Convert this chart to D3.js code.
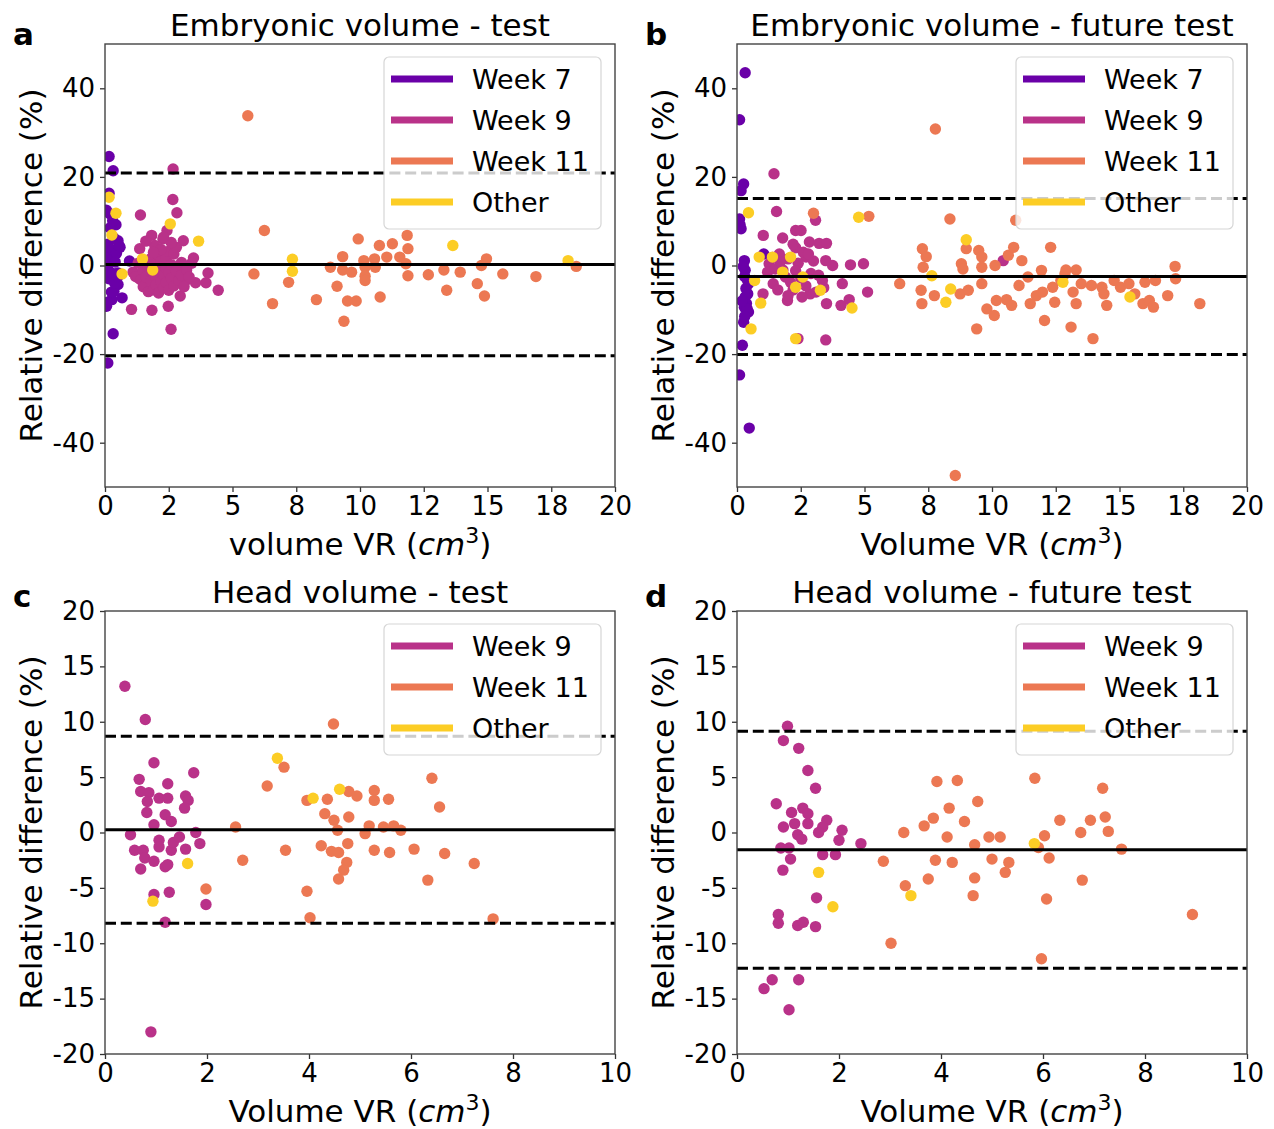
<!DOCTYPE html>
<html>
<head>
<meta charset="utf-8">
<script src="https://cdn.jsdelivr.net/npm/d3@7"></script>
<style>
  body { margin: 0; background: #fff; }
  svg text { font-family: "DejaVu Sans", sans-serif; fill: #000; }
</style>
</head>
<body>
<svg id="chart" width="1274" height="1129"></svg>
<script>
// group colours (plasma-like)
var groupNames = ["Week 7", "Week 9", "Week 11", "Other"];
var groupColors = ["#6a00a8", "#b93289", "#ec7853", "#fccd25"];

// panel a: embryonic volume - test   [volume VR, relative difference %]
var aWeek7 = [[0.16,24.6],[0.32,21.4],[0.16,16.3],[0.19,11.7],[0.43,9.2],[0.51,5.6],[0.59,4.1],
  [0.19,1.7],[0.51,-1.7],[0.51,-4.3],[0.67,-7.3],[0.27,-7.7],[0.06,-9.2],[0.32,-15.4],[0.11,-22.0],
  [0.96,1.0],[0.06,-1.3],[0.35,-5.8],[0.05,2.5],[0.1,-0.5],[0.12,4.8],[0.15,-3.0],[0.2,8.5],[0.2,1.2],
  [0.25,-6.0],[0.28,3.5],[0.3,-1.8],[0.35,6.2],[0.38,-4.0],[0.4,0.8],[0.45,2.8],[0.5,-2.5],[0.55,4.5],
  [0.1,-8.3],[0.05,12.5],[0.3,10.1]];
var aWeek9 = [[2.67,21.8],[2.66,14.9],[1.39,11.4],[2.82,11.9],[1.83,6.8],[2.27,6.0],[2.43,7.9],[3.07,5.6],
  [1.36,3.8],[1.95,4.5],[1.04,-9.9],[1.84,-10.1],[2.48,-9.2],[2.59,-14.4],[2.95,-6.9],[4.44,-5.6],
  [3.96,-3.9],[3.55,-3.9],[4.04,-1.7],[3.47,1.7],[2.91,-1.3],[1.95,-5.0],[2.27,-4.3],[1.31,-2.8],
  [1.63,-2.0],[2.59,-2.8],[3.15,-3.5],[1.1,-1.5],[1.2,-2.5],[1.3,0.5],[1.4,-3.2],[1.5,-1.2],[1.5,-4.8],
  [1.6,0.8],[1.6,-2.6],[1.7,-5.9],[1.7,-0.4],[1.8,1.6],[1.8,-3.5],[1.9,-1.8],[1.9,-5.5],[2.0,0.4],
  [2.0,-2.8],[2.0,-4.4],[2.1,2.4],[2.1,-1.1],[2.1,-6.2],[2.2,-3.6],[2.2,0.9],[2.3,-2.1],[2.3,-5.1],
  [2.4,1.8],[2.4,-0.6],[2.4,-3.9],[2.5,3.2],[2.5,-1.6],[2.5,-5.6],[2.6,0.2],[2.6,-2.9],[2.7,2.6],
  [2.7,-4.6],[2.8,-1.2],[2.8,4.1],[2.9,-3.4],[3.0,0.7],[3.0,-2.2],[3.1,-4.8],[3.2,-1.0],[3.3,-2.6],
  [3.4,0.5],[2.2,3.6],[1.9,3.0],[2.6,5.2],[2.3,6.4],[1.6,5.5]];
var aWeek11 = [[5.6,33.8],[6.25,7.9],[9.93,6.0],[10.76,4.5],[11.27,4.9],[11.85,6.8],[11.88,3.8],[9.32,2.0],
  [10.15,1.1],[10.57,1.5],[11.05,1.9],[11.56,1.9],[14.96,1.5],[14.76,0],[18.48,-0.2],[8.84,-0.4],
  [9.32,-1.0],[9.67,-1.5],[10.2,-0.4],[10.6,-0.4],[11.8,0.4],[5.84,-1.9],[11.88,-2.3],[12.68,-2.1],
  [13.29,-1.0],[13.93,-1.5],[15.6,-1.9],[16.9,-2.5],[7.2,-3.8],[6.57,-8.6],[8.29,-7.7],[9.1,-4.7],
  [9.51,-8.0],[9.85,-8.0],[9.37,-12.6],[10.79,-7.1],[10.2,-2.4],[10.2,-3.4],[13.4,-5.6],[14.6,-4.1],
  [14.88,-6.9]];
var aOther = [[0.16,15.4],[0.43,11.8],[0.27,6.9],[2.56,9.4],[3.67,5.5],[1.47,1.5],[1.87,-1.0],[0.67,-1.9],
  [7.35,1.4],[7.35,-1.3],[13.64,4.5],[18.16,1.1]];

// panel b: embryonic volume - future test
var bWeek7 = [[0.32,43.5],[0.1,32.9],[0.26,18.4],[0.16,16.9],[0.1,10.5],[0.16,8.3],[0.29,1.1],[0.32,-1.1],
  [0.45,-4.1],[0.42,-6.4],[0.37,-8.6],[0.45,-10.5],[0.26,-12.8],[0.21,-18.0],[0.1,-24.7],[0.48,-36.7],
  [0.29,-9.4],[0.32,-7.1],[0.3,-2.5],[0.35,-5.2],[0.25,-0.2],[0.4,-9.8],[0.3,-11.5],[0.2,-8.0],
  [0.12,9.2],[0.4,-3.2],[1.05,2.6]];
var bWeek9 = [[1.45,20.7],[1.55,12.2],[1.03,6.8],[1.79,6.2],[2.3,7.9],[2.51,7.9],[3.08,10.2],[2.84,5.3],
  [3.22,5.0],[3.51,5.0],[1.66,2.6],[2.3,4.0],[4.45,0.15],[4.96,0.4],[10.44,1.1],[1.02,-6.4],[1.98,-7.9],
  [2.39,-16.5],[3.48,-16.8],[3.51,-8.6],[4.08,-9.0],[4.4,-7.7],[5.12,-6.0],[4.13,-4.1],[2.87,-6.4],
  [3.35,-3.4],[1.42,-4.1],[1.9,-2.6],[2.55,-7.1],[3.75,0],[3.48,1.1],[2.71,1.9],[1.26,0.4],[1.2,-1.5],
  [1.5,-0.8],[1.6,-5.5],[1.8,-1.0],[2.0,1.5],[2.1,-3.8],[2.2,-5.5],[2.4,0.5],[2.5,-2.8],[2.6,3.0],
  [2.7,-4.6],[2.9,-1.8],[3.0,1.0],[3.1,-6.0],[3.2,-2.2],[3.4,-5.0],[1.7,0.9],[2.0,-6.8],[2.3,-1.2],
  [1.4,1.8],[2.8,2.6],[2.2,4.8]];
var bWeek11 = [[3.0,11.8],[5.17,11.1],[8.35,10.5],[7.78,30.8],[10.93,10.2],[7.27,3.8],[7.42,2.0],[7.3,-0.4],
  [8.99,3.8],[9.48,3.4],[8.8,0.4],[8.86,-0.8],[10.12,0],[10.64,2.3],[10.85,4.1],[11.17,1.1],[12.3,4.1],
  [11.94,-1.1],[12.9,-1.0],[13.3,-1.0],[17.18,-0.2],[9.6,1.9],[9.6,-0.4],[6.38,-4.1],[7.22,-5.6],
  [7.25,-8.6],[7.74,-6.8],[8.75,-6.4],[9.07,-5.6],[9.6,-4.1],[9.8,-9.8],[10.09,-11.3],[9.4,-14.3],
  [10.17,-7.9],[10.57,-7.7],[10.77,-9.0],[11.06,-4.5],[11.5,-8.6],[11.74,-6.8],[12.06,-12.4],[12.46,-8.3],
  [12.38,-4.9],[13.1,-13.9],[13.18,-6.0],[13.3,-8.6],[13.96,-16.5],[13.5,-4.1],[13.9,-4.5],[14.31,-4.9],
  [14.5,-9.0],[15.04,-4.9],[15.37,-4.1],[15.92,-8.6],[16.17,-7.9],[16.33,-9.4],[16.89,-6.8],[17.2,-3.0],
  [18.15,-8.6],[16.0,-3.8],[16.41,-3.4],[15.6,-6.4],[8.56,-47.4],[11.41,-2.6],[12.7,-3.4],[12.86,-1.9],
  [14.79,-3.4],[11.98,-6.0],[14.39,-6.4]];
var bOther = [[0.45,11.9],[4.77,10.9],[8.99,5.8],[0.87,1.9],[1.39,1.9],[2.1,1.9],[7.64,-2.3],[0.93,-8.5],
  [0.55,-14.3],[0.69,-3.4],[2.3,-4.9],[3.27,-5.6],[4.51,-9.6],[2.3,-16.5],[2.58,-2.6],[1.79,-1.5],
  [8.19,-8.3],[8.38,-5.3],[12.78,-3.8],[15.41,-7.1]];

// panel c: head volume - test
var cWeek9 = [[0.39,13.2],[0.79,10.2],[0.96,6.3],[1.74,5.4],[0.67,4.8],[1.23,4.4],[0.7,3.7],[0.86,3.6],
  [0.83,2.8],[1.06,3.1],[1.23,3.1],[1.58,3.3],[1.63,2.9],[1.56,2.2],[0.82,1.8],[1.18,1.6],[1.3,1.0],
  [0.96,0.7],[0.5,-0.2],[0.58,-1.6],[0.75,-1.6],[0.78,-2.3],[0.7,-3.3],[0.96,-2.6],[1.06,-0.7],
  [1.06,-1.3],[1.3,-1.6],[1.34,-0.9],[1.46,-0.4],[1.58,-1.5],[1.78,0],[1.86,-1.0],[1.18,-3.1],
  [1.23,-2.9],[0.96,-5.6],[1.26,-5.4],[1.98,-6.5],[1.18,-8.1],[0.9,-18.0]];
var cWeek11 = [[4.48,9.8],[3.51,5.9],[3.18,4.2],[6.41,4.9],[6.56,2.3],[3.96,2.9],[4.36,3.0],[4.78,3.7],
  [4.94,3.3],[5.28,3.8],[5.28,2.9],[5.56,3.0],[4.31,1.7],[4.78,1.4],[4.49,1.1],[2.56,0.5],[2.7,-2.5],
  [3.54,-1.6],[3.96,-5.3],[4.02,-7.7],[4.24,-1.2],[4.44,-1.7],[4.58,-1.8],[4.76,-1.0],[4.74,-2.7],
  [4.68,-3.4],[4.58,-4.2],[4.56,0.2],[5.1,-0.1],[5.18,0.6],[5.46,0.5],[5.66,0.6],[5.8,0.2],[5.28,-1.6],
  [5.58,-1.8],[6.06,-1.5],[6.66,-1.9],[6.33,-4.3],[7.24,-2.8],[7.61,-7.8],[1.98,-5.1]];
var cOther = [[3.38,6.7],[4.08,3.1],[4.6,3.9],[1.62,-2.8],[0.94,-6.2]];

// panel d: head volume - future test
var dWeek9 = [[0.99,9.6],[0.91,8.3],[1.21,7.6],[1.39,5.6],[1.54,4.0],[0.77,2.6],[1.07,1.8],[1.29,2.2],
  [1.39,1.7],[1.76,1.1],[1.68,0.5],[0.91,0.5],[1.13,0.8],[1.39,0.8],[1.6,0],[2.06,0.2],[1.19,-0.2],
  [1.27,-0.6],[2.0,-0.7],[2.43,-1.0],[0.86,-1.4],[1.02,-1.4],[1.05,-2.4],[0.9,-3.4],[1.68,-2.0],
  [1.93,-2.0],[1.56,-5.9],[0.81,-7.4],[0.81,-8.2],[1.19,-8.4],[1.3,-8.1],[1.54,-8.5],[0.53,-14.1],
  [0.69,-13.3],[1.21,-13.3],[1.02,-16.0]];
var dWeek11 = [[3.92,4.6],[4.32,4.7],[5.84,4.9],[7.17,4.0],[4.72,2.8],[4.16,2.2],[3.85,1.3],[3.67,0.6],
  [4.46,1.0],[6.33,1.1],[6.93,1.1],[7.22,1.4],[3.27,0],[4.12,-0.4],[4.94,-0.4],[5.16,-0.4],[6.03,-0.3],
  [6.74,0],[7.28,0.1],[4.66,-1.1],[5.91,-1.35],[7.54,-1.5],[2.87,-2.6],[3.02,-10.0],[3.3,-4.8],
  [3.75,-4.2],[3.89,-2.5],[4.22,-2.7],[4.63,-5.7],[4.66,-4.1],[5.0,-2.4],[5.33,-2.7],[5.26,-3.6],
  [6.12,-2.3],[6.07,-6.0],[5.97,-11.4],[6.77,-4.3],[8.93,-7.4]];
var dOther = [[5.83,-1.0],[1.6,-3.6],[1.88,-6.7],[3.41,-5.7]];

// bias (mean) and limits of agreement, panels a-d
var meanDiff = [0.25, -2.5, 0.25, -1.55];
var upperLoA = [20.9, 15.1, 8.7, 9.15];
var lowerLoA = [-20.4, -20.1, -8.2, -12.25];

var titles = ["Embryonic volume - test", "Embryonic volume - future test",
              "Head volume - test", "Head volume - future test"];
var letters = ["a", "b", "c", "d"];
var xLabels = ["volume VR", "Volume VR", "Volume VR", "Volume VR"];

var embXTicks = [0, 2.5, 5, 7.5, 10, 12.5, 15, 17.5, 20];
var embXTickLabels = ["0", "2", "5", "8", "10", "12", "15", "18", "20"];
var embYTicks = [-40, -20, 0, 20, 40];
var headXTicks = [0, 2, 4, 6, 8, 10];
var headYTicks = [-20, -15, -10, -5, 0, 5, 10, 15, 20];

var panels = [
  { left: 105, top: 44, xDom: [0, 20], yDom: [-50, 50], xTicks: embXTicks, xTickLabels: embXTickLabels,
    yTicks: embYTicks, groups: [aWeek7, aWeek9, aWeek11, aOther], legend: [0, 1, 2, 3] },
  { left: 737, top: 44, xDom: [0, 20], yDom: [-50, 50], xTicks: embXTicks, xTickLabels: embXTickLabels,
    yTicks: embYTicks, groups: [bWeek7, bWeek9, bWeek11, bOther], legend: [0, 1, 2, 3] },
  { left: 105, top: 611, xDom: [0, 10], yDom: [-20, 20], xTicks: headXTicks, xTickLabels: null,
    yTicks: headYTicks, groups: [[], cWeek9, cWeek11, cOther], legend: [1, 2, 3] },
  { left: 737, top: 611, xDom: [0, 10], yDom: [-20, 20], xTicks: headXTicks, xTickLabels: null,
    yTicks: headYTicks, groups: [[], dWeek9, dWeek11, dOther], legend: [1, 2, 3] }
];

var pw = 510, ph = 443;
var svg = d3.select("#chart");

panels.forEach(function (p, i) {
  var g = svg.append("g").attr("transform", "translate(" + p.left + "," + p.top + ")");
  var x = d3.scaleLinear().domain(p.xDom).range([0, pw]);
  var y = d3.scaleLinear().domain(p.yDom).range([ph, 0]);

  var clip = "clip" + i;
  g.append("clipPath").attr("id", clip).append("rect").attr("width", pw).attr("height", ph);
  var plot = g.append("g").attr("clip-path", "url(#" + clip + ")");

  // points, one layer per group
  p.groups.forEach(function (pts, gi) {
    plot.append("g").selectAll("circle")
      .data(pts)
      .enter().append("circle")
      .attr("cx", function (d) { return x(d[0]); })
      .attr("cy", function (d) { return y(d[1]); })
      .attr("r", 5.7)
      .attr("fill", groupColors[gi]);
  });

  // mean and limits of agreement
  plot.append("line").attr("x1", 0).attr("x2", pw)
    .attr("y1", y(meanDiff[i])).attr("y2", y(meanDiff[i]))
    .attr("stroke", "#000").attr("stroke-width", 3);
  [upperLoA[i], lowerLoA[i]].forEach(function (v) {
    plot.append("line").attr("x1", 0).attr("x2", pw)
      .attr("y1", y(v)).attr("y2", y(v))
      .attr("stroke", "#000").attr("stroke-width", 3)
      .attr("stroke-dasharray", "11,4.8");
  });

  // axes
  var xAxis = d3.axisBottom(x).tickValues(p.xTicks).tickSizeOuter(0).tickSize(5).tickPadding(5)
    .tickFormat(function (d, k) { return p.xTickLabels ? p.xTickLabels[k] : String(d); });
  var yAxis = d3.axisLeft(y).tickValues(p.yTicks).tickSizeOuter(0).tickSize(5).tickPadding(5)
    .tickFormat(function (d) { return String(d); });

  var gx = g.append("g").attr("transform", "translate(0," + ph + ")").call(xAxis);
  var gy = g.append("g").call(yAxis);
  [gx, gy].forEach(function (ax) {
    ax.select(".domain").remove();
    ax.selectAll("line").attr("stroke", "#333").attr("stroke-width", 1.3);
    ax.selectAll("text").style("font-size", "26px").style("font-family", "DejaVu Sans").attr("fill", "#000");
  });

  // frame
  g.append("rect").attr("width", pw).attr("height", ph)
    .attr("fill", "none").attr("stroke", "#444").attr("stroke-width", 1.4);

  // legend
  var lg = g.append("g").attr("transform", "translate(" + (pw - 231) + ",13)");
  var lh = 8 + p.legend.length * 41;
  lg.append("rect").attr("width", 217).attr("height", lh).attr("rx", 5)
    .attr("fill", "#fff").attr("fill-opacity", 0.8)
    .attr("stroke", "#d6d6d6").attr("stroke-width", 1.2);
  p.legend.forEach(function (gi, k) {
    var yy = 22 + k * 41;
    lg.append("line").attr("x1", 7).attr("x2", 69).attr("y1", yy).attr("y2", yy)
      .attr("stroke", groupColors[gi]).attr("stroke-width", 7);
    lg.append("text").attr("x", 88).attr("y", yy + 10)
      .style("font-size", "27px").text(groupNames[gi]);
  });

  // title
  g.append("text").attr("x", pw / 2).attr("y", -8).attr("text-anchor", "middle")
    .style("font-size", "31px").text(titles[i]);

  // panel letter
  g.append("text").attr("x", -92).attr("y", i < 2 ? 1 : -4)
    .style("font-size", "31px").style("font-weight", "bold").text(letters[i]);

  // x label with italic cm and superscript 3
  var xl = g.append("text").attr("x", pw / 2).attr("y", ph + 68).attr("text-anchor", "middle")
    .style("font-size", "31px");
  xl.append("tspan").text(xLabels[i] + " (");
  xl.append("tspan").style("font-style", "italic").text("cm");
  xl.append("tspan").attr("dy", -12).style("font-size", "22px").text("3");
  xl.append("tspan").attr("dy", 12).text(")");

  // y label
  g.append("text")
    .attr("transform", "translate(-63," + (ph / 2) + ") rotate(-90)")
    .attr("text-anchor", "middle")
    .style("font-size", "31px")
    .text("Relative difference (%)");
});
</script>
</body>
</html>
